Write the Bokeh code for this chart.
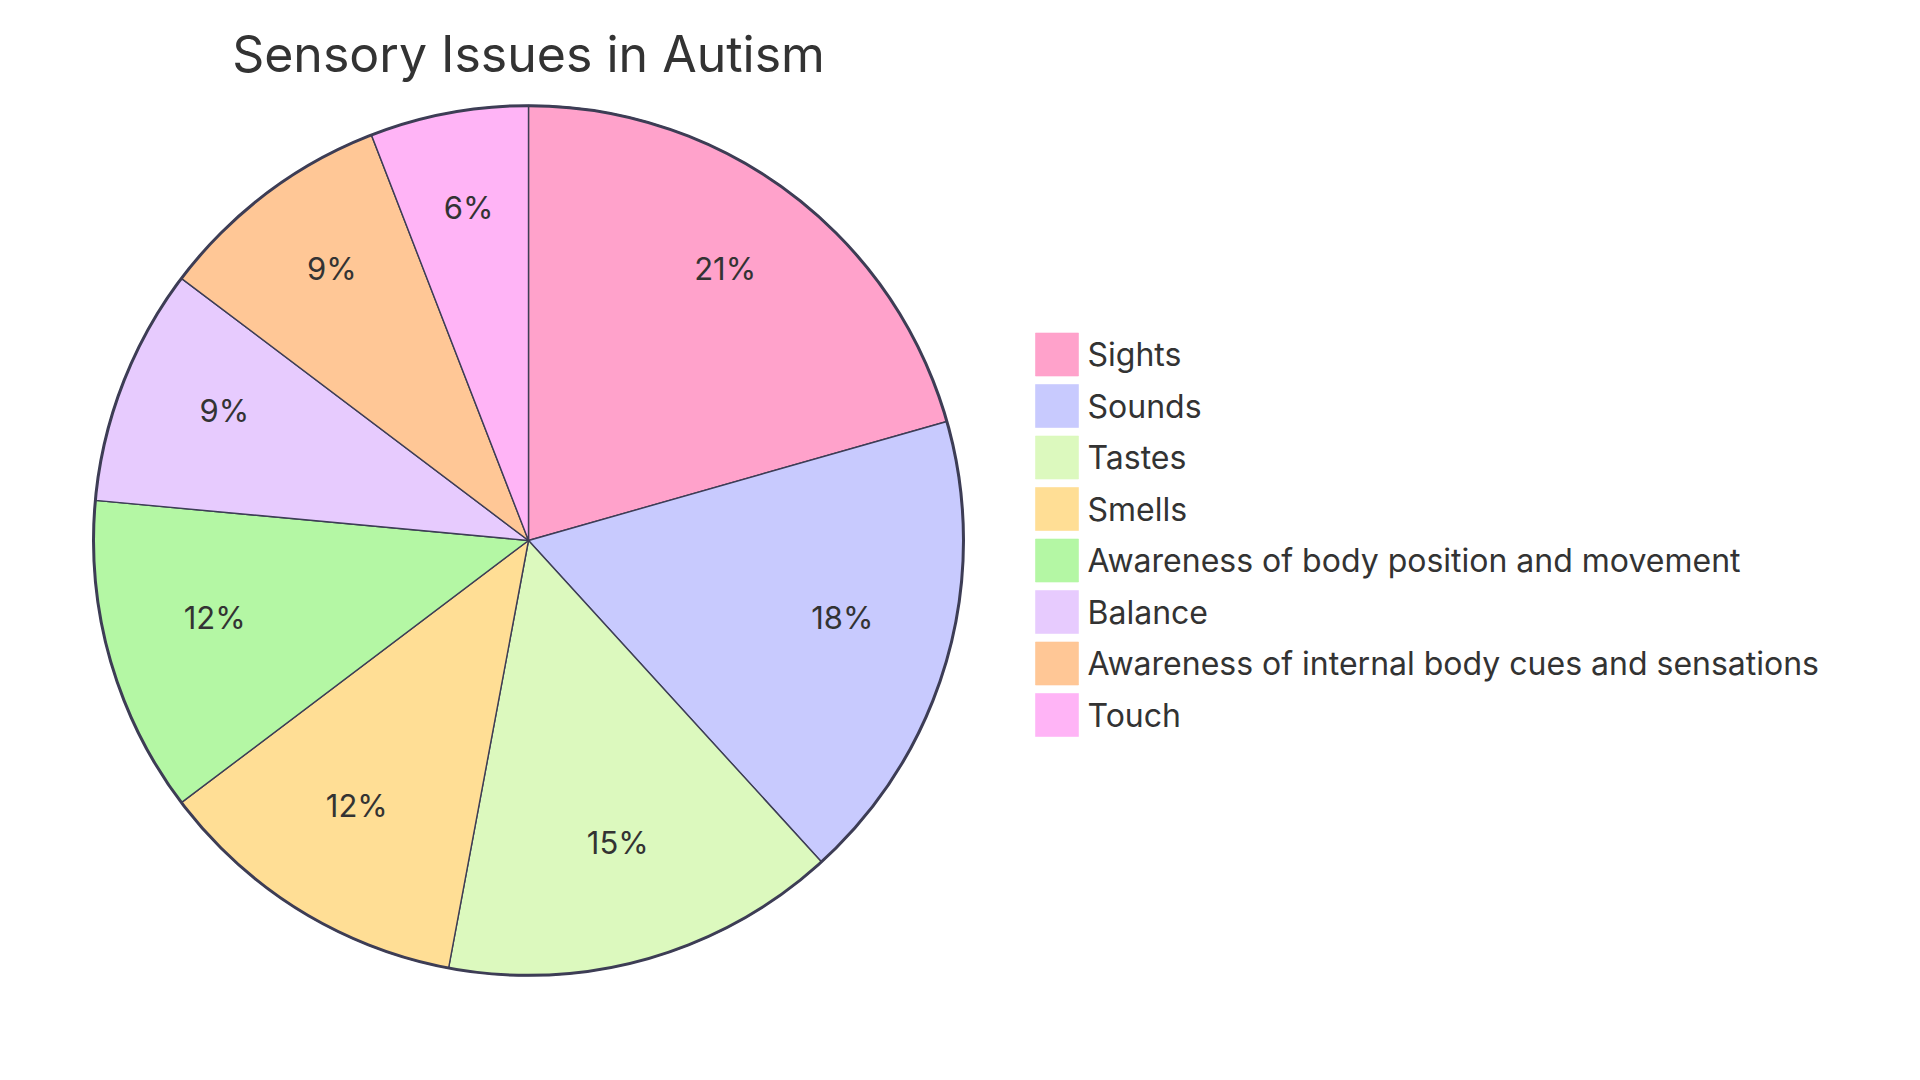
import math
from bokeh.plotting import figure
from bokeh.models import Range1d, ColumnDataSource
from bokeh.core.properties import value
from bokeh.embed import file_html
from bokeh.resources import INLINE

# ---- data ----
title_text = "Sensory Issues in Autism"
categories = ["Sights", "Sounds", "Tastes", "Smells",
              "Awareness of body position and movement", "Balance",
              "Awareness of internal body cues and sensations", "Touch"]
values = [7, 6, 5, 4, 4, 3, 3, 2]
colors = ["#FFA2CB", "#C8CAFE", "#DCF9BE", "#FFDE95",
          "#B4F7A4", "#E7CBFE", "#FFC796", "#FFB4F6"]

W, H = 1920, 1080
FONT = "Inter"
TXT = "#333333"
EDGE = "#3D3D55"

p = figure(width=W, height=H, output_backend="svg", toolbar_location=None,
           x_range=Range1d(0, W), y_range=Range1d(0, H), min_border=0)
p.axis.visible = False
p.grid.visible = False
p.outline_line_color = None
p.background_fill_color = "white"

def Y(y):
    return H - y

cx, cy, R = 528, Y(540), 435
total = sum(values)
starts, ends, mids, pct = [], [], [], []
cum = 0.0
for v in values:
    a0 = math.pi / 2 - 2 * math.pi * cum / total
    cum += v
    a1 = math.pi / 2 - 2 * math.pi * cum / total
    starts.append(a0)
    ends.append(a1)
    mids.append((a0 + a1) / 2)
    pct.append(f"{round(100 * v / total)}%")

src = ColumnDataSource(dict(start=starts, end=ends, color=colors))
p.wedge(x=cx, y=cy, radius=R, start_angle="start", end_angle="end",
        direction="clock", fill_color="color", line_color=EDGE,
        line_width=1.4, source=src)
p.circle(x=cx, y=cy, radius=R, fill_color=None, line_color=EDGE, line_width=3)

lr = 0.75 * R
lab = ColumnDataSource(dict(x=[cx + lr * math.cos(m) for m in mids],
                            y=[cy + lr * math.sin(m) + 12 for m in mids],
                            t=pct))
p.text(x="x", y="y", text="t", source=lab, text_font=value(FONT),
       text_font_size="31px", text_color=TXT, text_align="center",
       text_baseline="alphabetic")

# title
p.text(x=[528], y=[Y(53)], text=[title_text], text_font=value(FONT),
       text_font_size="50px", text_color=TXT, text_align="center",
       text_baseline="middle")

# legend
lx, ly0, step, sq = 1035, 354, 51.5, 43
leg = ColumnDataSource(dict(
    x=[lx + sq / 2] * len(categories),
    y=[Y(ly0 + i * step) for i in range(len(categories))],
    tx=[lx + sq + 9] * len(categories),
    c=colors, t=categories))
p.rect(x="x", y="y", width=sq, height=sq, fill_color="c", line_color="c",
       line_alpha=0.6, source=leg)
p.text(x="tx", y="y", text="t", source=leg, text_font=value(FONT),
       text_font_size="32px", text_color=TXT, text_align="left",
       text_baseline="middle")

open("out.html", "w").write(file_html(p, INLINE))
